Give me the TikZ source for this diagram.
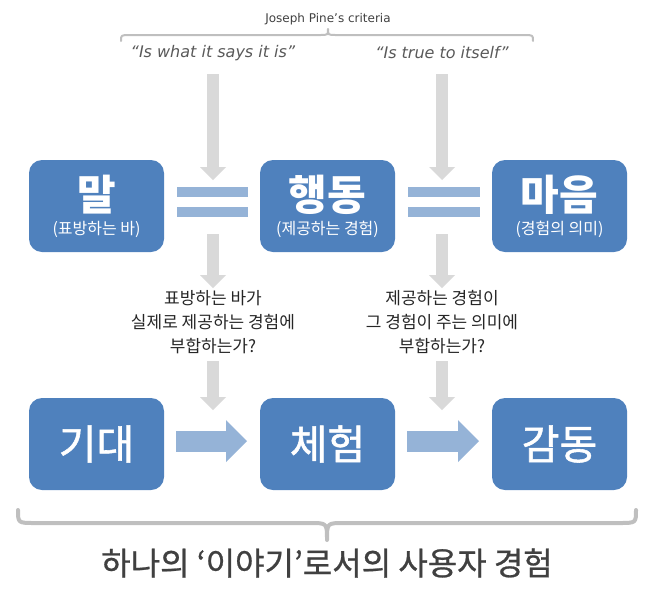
\documentclass[tikz,border=0pt]{standalone}
\usepackage{fontspec}
\usepackage{xcolor}
\setmainfont{DejaVu Sans}
\newfontfamily\krfont{Noto Sans CJK KR}
\newfontfamily\krmid[FakeBold=1.3]{Noto Sans CJK KR}
\newfontfamily\krsemi[FakeBold=0.8]{Noto Sans CJK KR}
\usepackage{tikz}
\usetikzlibrary{positioning,arrows.meta}

\definecolor{boxblue}{HTML}{4F81BD}
\definecolor{paleblue}{HTML}{95B3D7}
\definecolor{arrowgray}{HTML}{D9D9D9}
\definecolor{bracegray}{HTML}{BFBFBF}
\definecolor{textgray}{HTML}{404040}

\begin{document}
\begin{tikzpicture}[
  x=1pt, y=-1pt,
  box/.style   = {rectangle, rounded corners=13pt, fill=boxblue, draw=none,
    text=white, minimum width=135pt, minimum height=92pt, inner sep=0pt,
    outer sep=0pt, align=center},
  topbox/.style = {box, font=\krfont\fontsize{16}{24}\selectfont},
  lowbox/.style = {box, font=\krmid\fontsize{41}{44}\selectfont},
  quote/.style  = {font=\itshape\fontsize{16}{18}\selectfont, text=black!65},
  crit/.style   = {font=\fontsize{12}{14}\selectfont, text=textgray},
  ask/.style    = {font=\krfont\fontsize{17}{24}\selectfont, text=black!85, align=center},
  story/.style  = {font=\krsemi\fontsize{32}{34}\selectfont, text=textgray},
  gaparrow/.style = {draw=arrowgray, line width=12pt,
    -{Triangle[length=13pt,width=26pt,line width=0pt]}},
  flow/.style   = {draw=paleblue, line width=21pt,
    -{Triangle[length=21pt,width=42pt,line width=0pt]}},
  eqbar/.style  = {draw=paleblue, line width=10pt, shorten <=13pt, shorten >=12pt},
  brace/.style  = {draw=bracegray, line cap=round, line join=round},
]
  \useasboundingbox (0,0) rectangle (653,595);

  % top row: word, action, mind
  \node[topbox] (mal) at (96.5,206)
    {{\bfseries\fontsize{42}{44}\selectfont 말}\\(표방하는 바)};
  \node[topbox, right=96pt of mal] (haengdong)
    {{\bfseries\fontsize{42}{44}\selectfont 행동}\\(제공하는 경험)};
  \node[topbox, right=97pt of haengdong] (maeum)
    {{\bfseries\fontsize{42}{44}\selectfont 마음}\\(경험의 의미)};

  % bottom row
  \node[lowbox, below=146pt of mal] (gidae) {기대};
  \node[lowbox, below=146pt of haengdong] (cheheom) {체험};
  \node[lowbox, below=146pt of maeum] (gamdong) {감동};

  % criteria
  \node[crit] (pine) at (328,19) {Joseph Pine’s criteria};
  \node[quote] (says) at (213,53) {“Is what it says it is”};
  \node[quote] (true) at (442,53) {“Is true to itself”};
  \draw[brace, line width=2pt] (121,41) .. controls (121,35) .. (130,35) -- (320,35)
    .. controls (328,35) .. (328,29) .. controls (328,35) .. (336,35) -- (524,35)
    .. controls (533,35) .. (533,41);

  \node[ask] (ask1) at (213,322) {표방하는 바가\\실제로 제공하는 경험에\\부합하는가?};
  \node[ask] (ask2) at (442,322) {제공하는 경험이\\그 경험이 주는 의미에\\부합하는가?};

  % gray arrows
  \coordinate (s1) at (213,74);   \coordinate (e1) at (213,180);
  \coordinate (s2) at (442,74);   \coordinate (e2) at (442,180);
  \coordinate (m1) at (213,234);  \coordinate (n1) at (213,288);
  \coordinate (m2) at (442,234);  \coordinate (n2) at (442,288);
  \coordinate (l1) at (213,361);  \coordinate (k1) at (213,410);
  \coordinate (l2) at (442,361);  \coordinate (k2) at (442,410);
  \draw[gaparrow] (s1) -- (e1);
  \draw[gaparrow] (s2) -- (e2);
  \draw[gaparrow] (m1) -- (n1);
  \draw[gaparrow] (m2) -- (n2);
  \draw[gaparrow] (l1) -- (k1);
  \draw[gaparrow] (l2) -- (k2);

  % equal signs
  \draw[eqbar] ([yshift=14pt]mal.east) -- ([yshift=14pt]haengdong.west);
  \draw[eqbar] ([yshift=-6pt]mal.east) -- ([yshift=-6pt]haengdong.west);
  \draw[eqbar] ([yshift=14pt]haengdong.east) -- ([yshift=14pt]maeum.west);
  \draw[eqbar] ([yshift=-6pt]haengdong.east) -- ([yshift=-6pt]maeum.west);

  % flow
  \draw[flow, shorten <=12pt, shorten >=13pt] ([yshift=3pt]gidae.east) -- ([yshift=3pt]cheheom.west);
  \draw[flow, shorten <=12pt, shorten >=13pt] ([yshift=3pt]cheheom.east) -- ([yshift=3pt]gamdong.west);

  % story brace
  \draw[brace, line width=4pt] (18,510) .. controls (18,523) .. (35,523) -- (310,523)
    .. controls (327,523) .. (327,540) .. controls (327,523) .. (344,523) -- (619,523)
    .. controls (636,523) .. (636,510);
  \node[story] (story) at (327,563) {하나의 ‘이야기’로서의 사용자 경험};
\end{tikzpicture}
\end{document}
